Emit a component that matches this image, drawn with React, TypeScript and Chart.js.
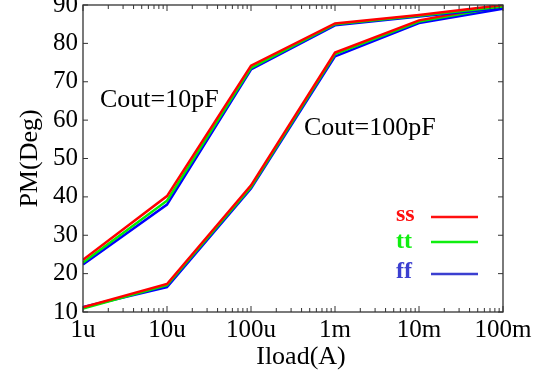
import React, { useEffect, useRef } from "react";
import { Chart, registerables } from "chart.js";
Chart.register(...registerables);

const loads = [1e-6, 1e-5, 1e-4, 1e-3, 1e-2, 1e-1];
const xTickLabels = ["1u", "10u", "100u", "1m", "10m", "100m"];
const yTickValues = [10, 20, 30, 40, 50, 60, 70, 80, 90];

const ss10p = [23.6, 40.2, 74.2, 85.2, 87.4, 90.0];
const tt10p = [22.9, 39.0, 73.6, 85.0, 87.2, 89.6];
const ff10p = [22.4, 38.0, 73.2, 84.7, 87.0, 89.2];
const ss100p = [11.2, 17.3, 43.0, 77.6, 86.0, 90.0];
const tt100p = [10.9, 17.0, 42.6, 77.2, 85.7, 89.6];
const ff100p = [11.3, 16.5, 42.2, 76.6, 85.3, 89.0];

const cornerNames = ["ss", "tt", "ff"];
const lineColors = ["#ff0000", "#00ee00", "#0000ff"];
const legendColors = ["#ff1010", "#10ee10", "#3b3fd0"];

const FONT = '"Liberation Serif", "Times New Roman", serif';

const toPts = (vals: number[]) => vals.map((v, i) => ({ x: loads[i], y: v }));

const isDecade = (v: number) => Math.abs(Math.log10(v) - Math.round(Math.log10(v))) < 1e-6;

const decor = {
  id: "decor",
  afterDraw(chart: any) {
    const { ctx, chartArea: a, scales } = chart;
    const xs = scales.x;
    const ys = scales.y;
    ctx.save();
    ctx.strokeStyle = "#333";
    ctx.lineWidth = 1.3;
    ctx.strokeRect(a.left, a.top, a.right - a.left, a.bottom - a.top);
    const seg = (x1: number, y1: number, x2: number, y2: number) => {
      ctx.beginPath();
      ctx.moveTo(x1, y1);
      ctx.lineTo(x2, y2);
      ctx.stroke();
    };
    ctx.lineWidth = 1;
    yTickValues.forEach((v) => {
      const py = ys.getPixelForValue(v);
      seg(a.left, py, a.left + 5, py);
      seg(a.right - 5, py, a.right, py);
    });
    for (let d = 0; d < loads.length; d++) {
      for (let k = 1; k <= 9; k++) {
        const v = loads[d] * k;
        if (v > loads[loads.length - 1] * 1.0001) break;
        const px = xs.getPixelForValue(v);
        const len = k === 1 ? 6 : 4;
        seg(px, a.bottom, px, a.bottom - len);
        seg(px, a.top, px, a.top + len);
      }
    }
    // axis titles
    ctx.fillStyle = "#000";
    ctx.font = `26px ${FONT}`;
    ctx.textAlign = "center";
    ctx.textBaseline = "middle";
    ctx.fillText("Iload(A)", (a.left + a.right) / 2 + 8, 357);
    ctx.save();
    ctx.translate(30, (a.top + a.bottom) / 2 + 0);
    ctx.rotate(-Math.PI / 2);
    ctx.fillText("PM(Deg)", 0, 0);
    ctx.restore();
    // annotations
    ctx.textAlign = "left";
    ctx.font = `26px ${FONT}`;
    ctx.fillText("Cout=10pF", a.left + 17, 100);
    ctx.fillText("Cout=100pF", a.left + 221, 128);
    // legend
    ctx.font = `bold 24px ${FONT}`;
    const ly = [215, 242, 272];
    const lineY = [217, 242, 274];
    cornerNames.forEach((n, i) => {
      ctx.fillStyle = legendColors[i];
      ctx.textAlign = "left";
      ctx.fillText(n, 396, ly[i]);
      ctx.strokeStyle = legendColors[i];
      ctx.lineWidth = 2.5;
      seg(431, lineY[i], 478, lineY[i]);
    });
    ctx.restore();
  },
};

export default function App() {
  const ref = useRef<HTMLCanvasElement | null>(null);
  useEffect(() => {
    document.body.style.margin = "0";
    const canvas = ref.current;
    if (!canvas) return;
    const groups = [
      [ss10p, tt10p, ff10p],
      [ss100p, tt100p, ff100p],
    ];
    const datasets: any[] = [];
    groups.forEach((g, gi) => {
      g.forEach((vals, ci) => {
        datasets.push({
          label: `${cornerNames[ci]} ${gi === 0 ? "10pF" : "100pF"}`,
          data: toPts(vals),
          borderColor: lineColors[ci],
          backgroundColor: lineColors[ci],
          borderWidth: 2.5,
          pointRadius: 0,
          tension: 0,
          fill: false,
        });
      });
    });
    const chart = new Chart(canvas, {
      type: "line",
      data: { datasets },
      options: {
        responsive: false,
        animation: false,
        layout: { padding: { left: 0, right: 52, top: 5, bottom: 0 } },
        plugins: { legend: { display: false }, tooltip: { enabled: false } },
        scales: {
          x: {
            type: "logarithmic",
            min: 1e-6,
            max: 1e-1,
            offset: false,
            grid: { display: false, drawTicks: false },
            border: { display: false },
            afterBuildTicks: (scale: any) => {
              const t: any[] = [];
              loads.forEach((d, i) => {
                for (let k = 1; k <= 9; k++) {
                  if (i === loads.length - 1 && k > 1) break;
                  t.push({ value: d * k });
                }
              });
              scale.ticks = t;
            },
            ticks: {
              autoSkip: false,
              maxRotation: 0,
              minRotation: 0,
              padding: 3,
              color: "#000",
              font: { family: FONT, size: 25 },
              callback: (v: any) => {
                const n = Number(v);
                if (!isDecade(n)) return "";
                const idx = Math.round(Math.log10(n)) + 6;
                return xTickLabels[idx] ?? "";
              },
            },
            afterFit: (scale: any) => {
              scale.height = 64;
              scale.paddingLeft = 0;
              scale.paddingRight = 0;
            },
          },
          y: {
            type: "linear",
            min: 10,
            max: 90,
            grid: { display: false, drawTicks: false },
            border: { display: false },
            afterBuildTicks: (scale: any) => {
              scale.ticks = yTickValues.map((v) => ({ value: v }));
            },
            ticks: {
              padding: 5,
              color: "#000",
              font: { family: FONT, size: 25 },
              callback: (v: any) => String(v),
            },
            afterFit: (scale: any) => {
              scale.width = 83;
              scale.paddingTop = 0;
              scale.paddingBottom = 0;
            },
          },
        },
      },
      plugins: [decor],
    });
    return () => chart.destroy();
  }, []);
  return (
    <div style={{ width: 555, height: 376, background: "#fff" }}>
      <canvas ref={ref} width={555} height={376} />
    </div>
  );
}
